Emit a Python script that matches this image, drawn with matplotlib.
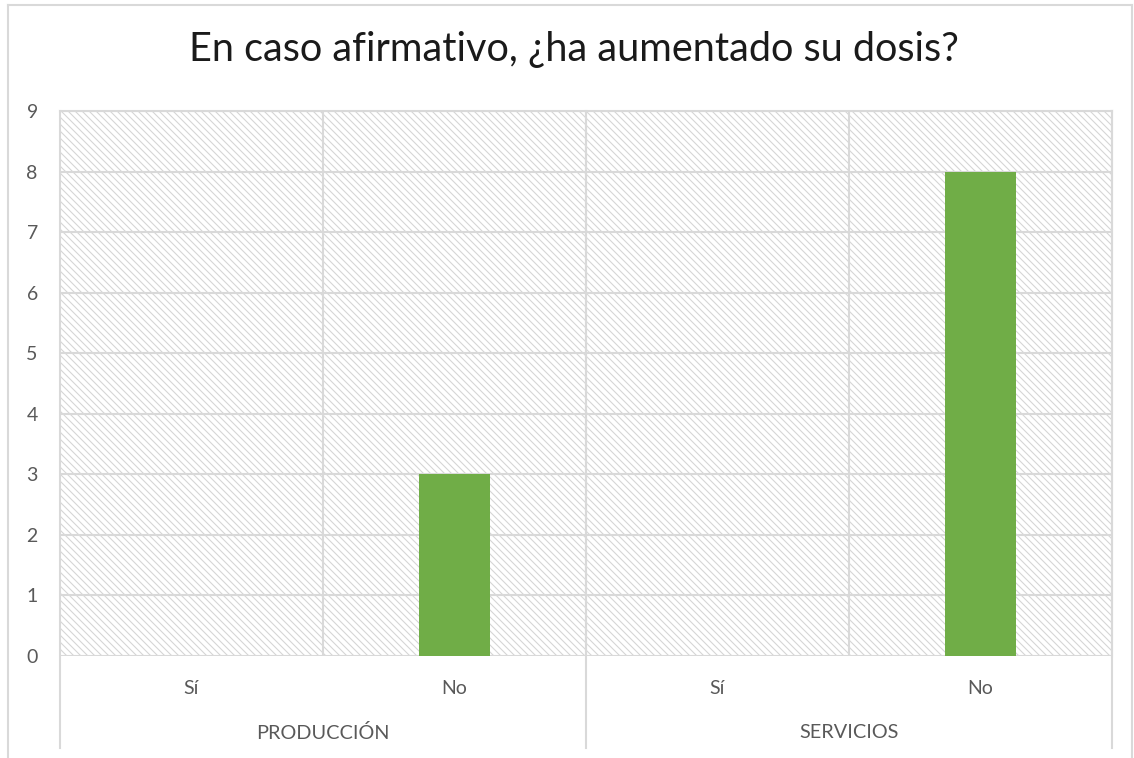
import matplotlib
matplotlib.use("Agg")
import matplotlib.pyplot as plt
import numpy as np
from matplotlib.lines import Line2D
from matplotlib.collections import LineCollection
import matplotlib.transforms as mtransforms

title = "En caso afirmativo, ¿ha aumentado su dosis?"
groups = ["PRODUCCIÓN", "SERVICIOS"]
answers = ["Sí", "No", "Sí", "No"]
values = [0, 3, 0, 8]
yticks = list(range(0, 10))

plt.rcParams["font.family"] = ["Lato", "DejaVu Sans"]

W, H = 1134, 758
fig = plt.figure(figsize=(W / 100, H / 100), dpi=100)

# outer chart border
border_c = "#d9d9d9"
fig.add_artist(Line2D([8 / W, 8 / W], [0, 1 - 5 / H], color=border_c, lw=1.5))
fig.add_artist(Line2D([8 / W, 1132 / W], [1 - 5 / H, 1 - 5 / H], color=border_c, lw=1.5))
fig.add_artist(Line2D([1132 / W, 1132 / W], [0, 1 - 5 / H], color=border_c, lw=1.5))

left, right, top, bottom = 60, 1112, 111, 656
pw, ph = right - left, bottom - top
ax = fig.add_axes([left / W, 1 - bottom / H, pw / W, ph / H])

x = list(range(len(answers)))
ax.set_xlim(-0.5, len(answers) - 0.5)
ax.set_ylim(0, 9)

# diagonal pattern fill of the plot area (pixel-spaced stripes)
px = mtransforms.Affine2D().scale(1 / pw, 1 / ph) + ax.transAxes
offsets = np.arange(-ph, pw + 7, 7)
segs = [[(c, ph), (c + ph, 0)] for c in offsets]
stripes = LineCollection(segs, colors="#d6d6d6", linewidths=0.8, transform=px, zorder=0)
stripes.set_clip_path(ax.patch)
ax.add_collection(stripes)

grid_c = "#d9d9d9"
for y in yticks:
    ax.axhline(y, color=grid_c, lw=1.5, zorder=1)
for b in [0.5, 1.5, 2.5]:
    ax.axvline(b, color=grid_c, lw=1.5, zorder=1)

ax.bar(x, values, width=0.27, color="#70ad47", zorder=3)

for s in ["top", "right"]:
    ax.spines[s].set_color(grid_c)
    ax.spines[s].set_linewidth(1.5)
ax.spines["left"].set_visible(False)
ax.spines["bottom"].set_visible(False)

lab_c = "#595959"
ax.set_yticks(yticks)
ax.set_yticklabels([str(v) for v in yticks], fontsize=14, color=lab_c)
ax.tick_params(axis="y", length=0, pad=16)
ax.set_xticks(x)
ax.set_xticklabels(answers, fontsize=14, color=lab_c)
ax.tick_params(axis="x", length=0, pad=17)

# group separators below the axis
trans = mtransforms.blended_transform_factory(ax.transData, ax.transAxes)
sep_bottom = (bottom - 748) / ph
for b in [-0.5, 1.5, 3.5]:
    ax.add_line(Line2D([b, b], [1, sep_bottom], transform=trans, color=grid_c,
                       lw=1.5, clip_on=False, zorder=1))
grp_y = (bottom - 733) / ph
for i, g in enumerate(groups):
    ax.text(2 * i + 0.5, grp_y, g, transform=trans, ha="center", va="center",
            fontsize=14.3, color=lab_c)

fig.text(0.5 + 7 / W, 1 - 50 / H, title, ha="center", va="center",
         fontsize=28.5, color="#1a1a1a")

fig.savefig("out.png", dpi=100)
